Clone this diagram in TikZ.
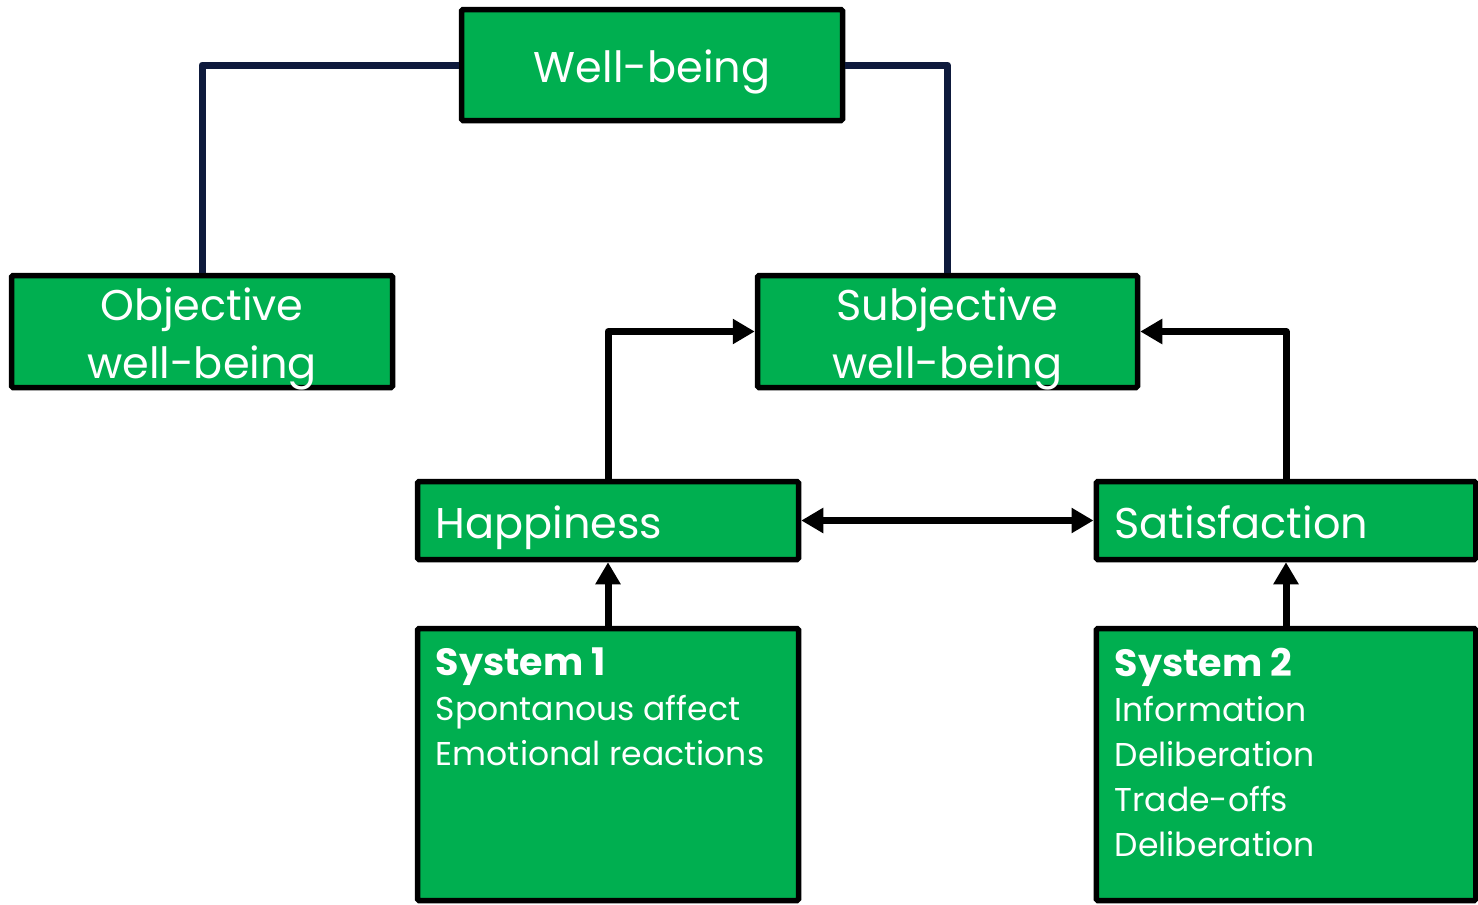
\documentclass[tikz,border=0pt]{standalone}
\usepackage{fontspec}
\setmainfont{Poppins}
\usetikzlibrary{arrows.meta}
\definecolor{boxgreen}{HTML}{00AF50}
\definecolor{navyline}{HTML}{0E1A3C}
\newcommand{\dn}[1]{\raisebox{-7pt}[\height][\depth]{#1}}
\tikzset{
  box/.style={draw=black, fill=boxgreen, line width=5.5pt, rounded corners=1.5pt, text=white, inner sep=0pt},
  bigtxt/.style={font=\fontsize{43}{58}\selectfont},
  conn/.style={draw=navyline, line width=7pt, line join=round},
  arr/.style={draw=black, line width=7pt, line join=round, -{Triangle[length=22pt,width=24pt]}},
  darr/.style={draw=black, line width=7pt, {Triangle[length=22pt,width=24pt]}-{Triangle[length=22pt,width=24pt]}},
  sysbody/.style={anchor=north west, text=white, align=left, inner sep=0pt, font=\fontsize{33}{45}\selectfont}
}
\begin{document}
\begin{tikzpicture}[x=1pt,y=-1pt]
\useasboundingbox (0,0) rectangle (1478,905);
\node[box, bigtxt, minimum width=381pt, minimum height=111pt, align=center] (wb) at (652,65) {\dn{Well-being}};
\node[box, bigtxt, minimum width=381pt, minimum height=112pt, align=center] (owb) at (202,331.5) {\dn{Objective}\\\dn{well-being}};
\node[box, bigtxt, minimum width=380pt, minimum height=112pt, align=center] (swb) at (947.5,331.5) {\dn{Subjective}\\\dn{well-being}};
\node[box, bigtxt, minimum width=381pt, minimum height=78pt, text width=345pt, inner xsep=18pt, align=left] (hap) at (608,520.5) {\dn{Happiness}};
\node[box, bigtxt, minimum width=379.5pt, minimum height=78pt, text width=343pt, inner xsep=18pt, align=left] (sat) at (1286,520.5) {\dn{Satisfaction\vphantom{p}}};
\node[box, minimum width=381pt, minimum height=272pt] (s1) at (608,764.5) {};
\node[box, minimum width=379.5pt, minimum height=272pt] (s2) at (1286,764.5) {};
\node[sysbody] (s1t) at ([xshift=21pt,yshift=-22pt]s1.north west) {{\fontsize{38}{45}\selectfont\bfseries System 1}\\Spontanous affect\\Emotional reactions};
\node[sysbody] (s2t) at ([xshift=21pt,yshift=-22pt]s2.north west) {{\fontsize{38}{45}\selectfont\bfseries System 2}\\Information\\Deliberation\\Trade-offs\\Deliberation};
\draw[conn] (wb.west) -| (owb.north);
\draw[conn] (wb.east) -| (swb.north);
\draw[arr] (hap.north) |- (swb.west);
\draw[arr] (sat.north) |- (swb.east);
\draw[darr] (hap.east) -- (sat.west);
\draw[arr] (s1.north) -- (hap.south);
\draw[arr] (s2.north) -- (sat.south);
\end{tikzpicture}
\end{document}
